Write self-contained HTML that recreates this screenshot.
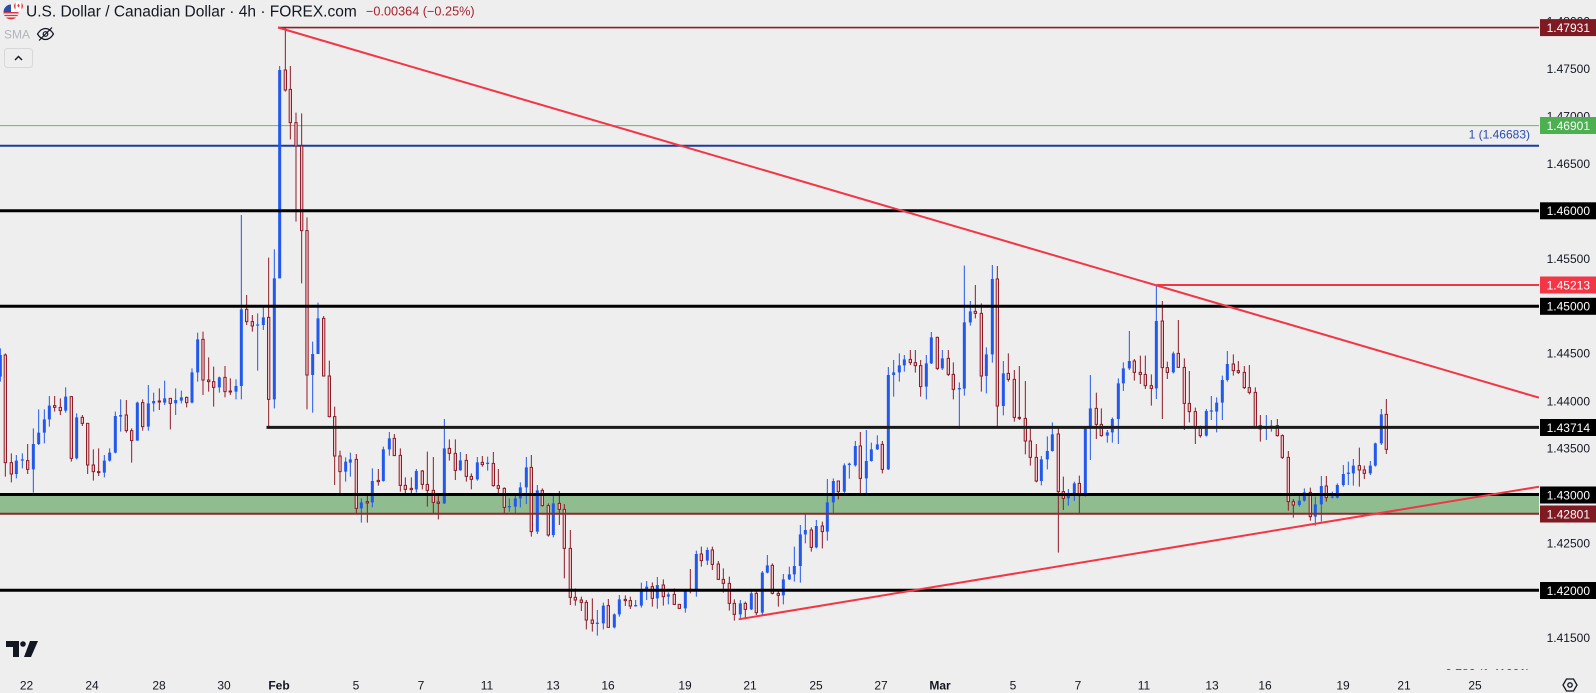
<!DOCTYPE html>
<html>
<head>
<meta charset="utf-8">
<style>
html,body{margin:0;padding:0;background:#eeeeee;}
body{width:1596px;height:693px;overflow:hidden;position:relative;font-family:"Liberation Sans",sans-serif;}
svg{position:absolute;left:0;top:0;}
</style>
</head>
<body>
<svg width="1596" height="693" viewBox="0 0 1596 693" xmlns="http://www.w3.org/2000/svg" font-family="Liberation Sans, sans-serif">
<defs>
<clipPath id="plot"><rect x="0" y="0" width="1539" height="670"/></clipPath>
</defs>
<rect x="0" y="0" width="1596" height="693" fill="#eeeeee"/>

<g clip-path="url(#plot)">
<!-- green band -->
<rect x="0" y="495" width="1539" height="18.5" fill="#8fbd8f"/>
<!-- thin lines -->
<line x1="0" y1="125.6" x2="1539" y2="125.6" stroke="#6cb46c" stroke-width="1"/>
<line x1="0" y1="145.7" x2="1539" y2="145.7" stroke="#1b3b9e" stroke-width="2"/>

<!-- candles group 1 -->
<g transform="matrix(0.33333,0,0,0.33333,0,20)">
<path fill="none" stroke="#8e1c28" stroke-width="3" d="M16 1000V1370M34 1300V1387M83 1272V1362M164 1128V1175M181 1135V1185M214 1128V1325M247 1185V1218M263 1210V1362M280 1288V1382M296 1285V1368M379 1140V1238M395 1225V1328M428 1138V1232M478 1105V1170M511 1135V1228M560 1130V1162M609 935V1125M626 1012V1115M641 1040V1160M675 1038V1132M691 1075V1125M740 825V915M757 885V935M806 713V1222M856 22V215M871 138V358M888 278V605M905 280V790M921 592V1168M971 888V1070M988 1022V1192M1004 1160V1395M1020 1292V1420"/>
<path fill="#2258ec" stroke="none" d="M-0.5 985h3V1085h-3zM47.5 1305h3V1375h-3zM65.5 1300h3V1345h-3zM98.5 1225h3V1418h-3zM114.5 1168h3V1275h-3zM131.5 1168h3V1270h-3zM146.5 1128h3V1220h-3zM195.5 1102h3V1178h-3zM228.5 1180h3V1318h-3zM311.5 1305h3V1372h-3zM327.5 1285h3V1325h-3zM344.5 1175h3V1300h-3zM360.5 1138h3V1235h-3zM410.5 1145h3V1262h-3zM443.5 1095h3V1232h-3zM459.5 1118h3V1175h-3zM492.5 1082h3V1155h-3zM525.5 1105h3V1185h-3zM542.5 1112h3V1150h-3zM574.5 1045h3V1150h-3zM591.5 938h3V1085h-3zM656.5 1070h3V1118h-3zM706.5 1078h3V1138h-3zM722.5 585h3V1138h-3zM771.5 880h3V1052h-3zM788.5 862h3V930h-3zM821.5 688h3V1165h-3zM837.5 138h3V775h-3zM936.5 965h3V1178h-3zM952.5 848h3V1002h-3zM1035.5 1312h3V1385h-3z"/>
<path fill="#f3c4c8" stroke="#8e1c28" stroke-width="3" d="M12.5 1005h7V1328h-7zM30.5 1328h7V1362h-7zM79.5 1322h7V1348h-7zM160.5 1157h7V1162h-7zM177.5 1162h7V1172h-7zM210.5 1130h7V1315h-7zM243.5 1192h7V1210h-7zM259.5 1210h7V1335h-7zM276.5 1335h7V1355h-7zM292.5 1355h7V1358h-7zM375.5 1185h7V1232h-7zM391.5 1232h7V1262h-7zM424.5 1148h7V1220h-7zM474.5 1143h7V1146h-7zM507.5 1135h7V1150h-7zM556.5 1132h7V1148h-7zM605.5 958h7V1080h-7zM622.5 1080h7V1085h-7zM637.5 1085h7V1102h-7zM671.5 1072h7V1115h-7zM687.5 1113h7V1116h-7zM736.5 868h7V905h-7zM753.5 905h7V918h-7zM802.5 892h7V1138h-7zM852.5 150h7V210h-7zM867.5 208h7V308h-7zM884.5 308h7V378h-7zM901.5 378h7V632h-7zM917.5 632h7V1065h-7zM967.5 895h7V1068h-7zM984.5 1068h7V1190h-7zM1000.5 1190h7V1308h-7zM1016.5 1308h7V1355h-7z"/>
<path fill="#2258ec" stroke="none" d="M-3.5 1005h9V1070h-9zM44.5 1322h9V1362h-9zM62.5 1318h9V1322h-9zM95.5 1272h9V1348h-9zM111.5 1238h9V1272h-9zM128.5 1198h9V1238h-9zM143.5 1157h9V1198h-9zM192.5 1130h9V1172h-9zM225.5 1192h9V1315h-9zM308.5 1322h9V1358h-9zM324.5 1298h9V1322h-9zM341.5 1188h9V1298h-9zM357.5 1185h9V1190h-9zM407.5 1148h9V1262h-9zM440.5 1150h9V1220h-9zM456.5 1143h9V1150h-9zM489.5 1135h9V1148h-9zM522.5 1140h9V1150h-9zM539.5 1132h9V1142h-9zM571.5 1057h9V1148h-9zM588.5 958h9V1057h-9zM653.5 1072h9V1102h-9zM703.5 1098h9V1115h-9zM719.5 868h9V1098h-9zM768.5 913h9V917h-9zM785.5 892h9V915h-9zM818.5 775h9V1138h-9zM834.5 150h9V775h-9zM933.5 1002h9V1065h-9zM949.5 895h9V1002h-9zM1032.5 1325h9V1355h-9z"/>
</g>

<!-- candles group 2 -->
<g transform="matrix(0.33333,0,0,0.33333,345,250)">
<path fill="none" stroke="#8e1c28" stroke-width="3" d="M34 612V790M67 732V818M100 657V707M148 552V617M166 595V725M181 682V730M199 682V730M232 660V718M247 605V770M265 621V790M280 732V808M313 568V632M331 568V690M364 612V695M379 670V718M412 618V650M445 606V710M460 657V735M478 712V792M559 615V860M592 715V770M610 760V860M643 723V825M658 762V985M676 840V1065M691 1015V1067M709 1040V1083M724 1050V1138M742 1045V1145M790 1047V1133M841 1036V1068M856 1040V1077M922 997V1070M955 988V1067M988 1015V1065M1003 1062V1077M1036 957V1030"/>
<path fill="#2258ec" stroke="none" d="M14.5 608h3V680h-3zM47.5 745h3V818h-3zM80.5 655h3V772h-3zM113.5 590h3V695h-3zM131.5 546h3V617h-3zM212.5 657h3V728h-3zM296.5 507h3V762h-3zM344.5 606h3V662h-3zM395.5 621h3V692h-3zM426.5 620h3V662h-3zM491.5 745h3V785h-3zM509.5 738h3V790h-3zM524.5 697h3V772h-3zM542.5 621h3V762h-3zM575.5 705h3V852h-3zM623.5 736h3V862h-3zM755.5 1080h3V1157h-3zM773.5 1058h3V1138h-3zM806.5 1090h3V1135h-3zM821.5 1035h3V1100h-3zM870.5 1050h3V1070h-3zM887.5 998h3V1073h-3zM903.5 993h3V1050h-3zM935.5 981h3V1076h-3zM968.5 1027h3V1063h-3zM1019.5 1018h3V1088h-3zM1052.5 902h3V1040h-3z"/>
<path fill="#f3c4c8" stroke="#8e1c28" stroke-width="3" d="M30.5 628h7V775h-7zM63.5 755h7V759h-7zM96.5 691h7V695h-7zM144.5 565h7V617h-7zM162.5 616h7V706h-7zM177.5 706h7V718h-7zM195.5 715h7V719h-7zM228.5 663h7V703h-7zM243.5 703h7V721h-7zM261.5 721h7V757h-7zM276.5 756h7V760h-7zM309.5 595h7V610h-7zM327.5 610h7V661h-7zM360.5 631h7V679h-7zM375.5 679h7V688h-7zM408.5 637h7V644h-7zM441.5 640h7V707h-7zM456.5 707h7V715h-7zM474.5 715h7V772h-7zM555.5 652h7V845h-7zM588.5 721h7V767h-7zM606.5 767h7V855h-7zM639.5 760h7V778h-7zM654.5 778h7V895h-7zM672.5 895h7V1042h-7zM687.5 1042h7V1050h-7zM705.5 1050h7V1057h-7zM720.5 1057h7V1110h-7zM738.5 1110h7V1120h-7zM786.5 1067h7V1132h-7zM837.5 1048h7V1052h-7zM852.5 1052h7V1068h-7zM918.5 1010h7V1045h-7zM951.5 1005h7V1040h-7zM984.5 1033h7V1063h-7zM999.5 1063h7V1075h-7zM1032.5 1018h7V1022h-7z"/>
<path fill="#2258ec" stroke="none" d="M11.5 628h9V638h-9zM44.5 757h9V775h-9zM77.5 693h9V757h-9zM110.5 598h9V693h-9zM128.5 565h9V598h-9zM209.5 663h9V718h-9zM293.5 595h9V760h-9zM341.5 631h9V661h-9zM392.5 637h9V688h-9zM423.5 638h9V642h-9zM488.5 768h9V772h-9zM506.5 745h9V770h-9zM521.5 712h9V745h-9zM539.5 652h9V712h-9zM572.5 721h9V845h-9zM620.5 760h9V855h-9zM752.5 1118h9V1122h-9zM770.5 1067h9V1120h-9zM803.5 1093h9V1132h-9zM818.5 1048h9V1093h-9zM867.5 1065h9V1069h-9zM884.5 1022h9V1067h-9zM900.5 1010h9V1022h-9zM932.5 1005h9V1045h-9zM965.5 1033h9V1040h-9zM1016.5 1020h9V1075h-9zM1049.5 912h9V1023h-9z"/>
</g>

<!-- candles group 3 -->
<g transform="matrix(0.33333,0,0,0.33333,698,240)">
<path fill="none" stroke="#8e1c28" stroke-width="3" d="M10 920V980M43 920V990M61 963V1020M76 985V1058M94 1010V1112M109 1078V1142M142 1085V1138M175 1048V1125M223 970V1063M241 1050V1100M340 862V935M373 845V925M421 722V778M487 576V765M553 603V700M637 330V375M652 330V398M668 360V470M718 290V390M751 330V408M766 367V478M832 135V235M850 190V455M898 78V562M931 340V425M949 390V545M964 378V540M982 423V643M997 562V677M1015 612V727"/>
<path fill="#2258ec" stroke="none" d="M26.5 922h3V975h-3zM125.5 1080h3V1140h-3zM158.5 1050h3V1110h-3zM191.5 993h3V1128h-3zM206.5 945h3V1000h-3zM254.5 1002h3V1093h-3zM272.5 980h3V1020h-3zM287.5 920h3V1025h-3zM305.5 855h3V1028h-3zM320.5 822h3V910h-3zM353.5 840h3V925h-3zM386.5 717h3V902h-3zM404.5 715h3V820h-3zM437.5 670h3V760h-3zM452.5 668h3V716h-3zM470.5 603h3V680h-3zM503.5 570h3V760h-3zM518.5 608h3V665h-3zM536.5 586h3V630h-3zM569.5 381h3V690h-3zM585.5 360h3V470h-3zM602.5 340h3V425h-3zM617.5 345h3V395h-3zM683.5 345h3V478h-3zM698.5 276h3V372h-3zM731.5 330h3V390h-3zM782.5 427h3V567h-3zM797.5 77h3V467h-3zM815.5 183h3V257h-3zM863.5 322h3V460h-3zM881.5 75h3V368h-3zM914.5 363h3V526h-3zM1028.5 648h3V736h-3zM1046.5 589h3V688h-3zM1061.5 547h3V635h-3z"/>
<path fill="#f3c4c8" stroke="#8e1c28" stroke-width="3" d="M6.5 942h7V962h-7zM39.5 930h7V973h-7zM57.5 972h7V1018h-7zM72.5 1018h7V1030h-7zM90.5 1030h7V1090h-7zM105.5 1090h7V1123h-7zM138.5 1090h7V1108h-7zM171.5 1060h7V1118h-7zM219.5 976h7V1060h-7zM237.5 1060h7V1066h-7zM336.5 870h7V922h-7zM369.5 858h7V875h-7zM417.5 723h7V755h-7zM483.5 618h7V715h-7zM549.5 613h7V688h-7zM633.5 358h7V368h-7zM648.5 368h7V377h-7zM664.5 377h7V440h-7zM714.5 292h7V385h-7zM747.5 355h7V403h-7zM762.5 403h7V448h-7zM828.5 214h7V220h-7zM846.5 220h7V408h-7zM894.5 117h7V498h-7zM927.5 400h7V418h-7zM945.5 418h7V532h-7zM960.5 532h7V535h-7zM978.5 535h7V603h-7zM993.5 603h7V652h-7zM1011.5 652h7V723h-7z"/>
<path fill="#2258ec" stroke="none" d="M23.5 930h9V962h-9zM122.5 1090h9V1123h-9zM155.5 1060h9V1108h-9zM188.5 998h9V1118h-9zM203.5 976h9V998h-9zM251.5 1018h9V1066h-9zM269.5 1003h9V1018h-9zM284.5 978h9V1003h-9zM302.5 883h9V978h-9zM317.5 870h9V883h-9zM350.5 858h9V922h-9zM383.5 787h9V875h-9zM401.5 723h9V787h-9zM434.5 676h9V755h-9zM449.5 671h9V675h-9zM467.5 618h9V676h-9zM500.5 663h9V715h-9zM515.5 628h9V663h-9zM533.5 613h9V628h-9zM566.5 405h9V688h-9zM582.5 397h9V405h-9zM599.5 376h9V397h-9zM614.5 358h9V376h-9zM680.5 370h9V440h-9zM695.5 292h9V370h-9zM728.5 355h9V385h-9zM779.5 444h9V448h-9zM794.5 247h9V446h-9zM812.5 214h9V247h-9zM860.5 343h9V408h-9zM878.5 117h9V343h-9zM911.5 400h9V498h-9zM1025.5 658h9V723h-9zM1043.5 633h9V658h-9zM1058.5 583h9V633h-9z"/>
</g>

<!-- candles group 4 -->
<g transform="matrix(0.33333,0,0,0.33333,1050,255)">
<path fill="none" stroke="#8e1c28" stroke-width="3" d="M25 520V893M40 665V765M88 662V775M139 413V552M154 460V545M253 312V377M271 302V387M286 302V402M304 358V452M337 138V492M352 320V372M385 195V338M403 310V525M418 348V502M436 458V567M451 512V548M550 298V362M565 318V357M583 333V402M598 330V418M616 397V518M631 480V560M682 492V545M697 538V612M715 588V767M730 732V788M781 698V797M829 663V740M928 578V695M943 632V672M1009 432V597"/>
<path fill="#2258ec" stroke="none" d="M53.5 702h3V752h-3zM71.5 680h3V738h-3zM104.5 515h3V725h-3zM119.5 360h3V615h-3zM170.5 525h3V563h-3zM185.5 487h3V563h-3zM203.5 370h3V567h-3zM218.5 322h3V408h-3zM236.5 228h3V345h-3zM317.5 90h3V432h-3zM368.5 290h3V355h-3zM467.5 462h3V545h-3zM482.5 423h3V495h-3zM498.5 427h3V532h-3zM515.5 362h3V495h-3zM530.5 288h3V380h-3zM647.5 480h3V555h-3zM662.5 495h3V530h-3zM746.5 718h3V755h-3zM761.5 700h3V740h-3zM794.5 725h3V812h-3zM812.5 663h3V800h-3zM845.5 710h3V730h-3zM860.5 685h3V730h-3zM878.5 630h3V695h-3zM893.5 620h3V690h-3zM908.5 612h3V692h-3zM959.5 618h3V660h-3zM974.5 563h3V635h-3zM992.5 462h3V570h-3z"/>
<path fill="#f3c4c8" stroke="#8e1c28" stroke-width="3" d="M21.5 537h7V710h-7zM36.5 710h7V730h-7zM84.5 685h7V722h-7zM135.5 460h7V508h-7zM150.5 508h7V542h-7zM249.5 318h7V352h-7zM267.5 352h7V358h-7zM282.5 358h7V392h-7zM300.5 392h7V400h-7zM333.5 198h7V338h-7zM348.5 338h7V352h-7zM381.5 295h7V337h-7zM399.5 337h7V445h-7zM414.5 445h7V470h-7zM432.5 470h7V520h-7zM447.5 518h7V542h-7zM546.5 327h7V347h-7zM561.5 347h7V352h-7zM579.5 352h7V398h-7zM594.5 398h7V412h-7zM612.5 412h7V515h-7zM627.5 512h7V522h-7zM678.5 512h7V542h-7zM693.5 542h7V607h-7zM711.5 607h7V740h-7zM726.5 740h7V750h-7zM777.5 712h7V785h-7zM825.5 693h7V728h-7zM924.5 632h7V645h-7zM939.5 645h7V655h-7zM1005.5 478h7V583h-7z"/>
<path fill="#2258ec" stroke="none" d="M50.5 715h9V730h-9zM68.5 685h9V715h-9zM101.5 517h9V722h-9zM116.5 460h9V517h-9zM167.5 532h9V542h-9zM182.5 492h9V532h-9zM200.5 385h9V492h-9zM215.5 340h9V385h-9zM233.5 318h9V340h-9zM314.5 198h9V400h-9zM365.5 295h9V352h-9zM464.5 468h9V542h-9zM479.5 466h9V470h-9zM495.5 443h9V470h-9zM512.5 375h9V443h-9zM527.5 327h9V375h-9zM644.5 518h9V522h-9zM659.5 512h9V520h-9zM743.5 737h9V750h-9zM758.5 712h9V737h-9zM791.5 748h9V785h-9zM809.5 693h9V748h-9zM842.5 725h9V728h-9zM857.5 690h9V728h-9zM875.5 657h9V690h-9zM890.5 653h9V657h-9zM905.5 632h9V655h-9zM956.5 632h9V655h-9zM971.5 565h9V632h-9zM989.5 478h9V565h-9z"/>
</g>

<!-- horizontal level lines -->
<line x1="278" y1="27.6" x2="1539" y2="27.6" stroke="#8c1f29" stroke-width="1.6"/>
<line x1="0" y1="210.8" x2="1539" y2="210.8" stroke="#000" stroke-width="3"/>
<line x1="0" y1="306.3" x2="1539" y2="306.3" stroke="#000" stroke-width="3"/>
<line x1="266.5" y1="427.4" x2="1539" y2="427.4" stroke="#1a1a1a" stroke-width="3"/>
<line x1="0" y1="494.5" x2="1539" y2="494.5" stroke="#000" stroke-width="3"/>
<line x1="0" y1="513.7" x2="1539" y2="513.7" stroke="#8c2a2e" stroke-width="2"/>
<line x1="0" y1="590.3" x2="1539" y2="590.3" stroke="#000" stroke-width="3"/>
<line x1="1156.7" y1="285" x2="1539" y2="285" stroke="#f23645" stroke-width="2"/>
<!-- trend lines -->
<line x1="278" y1="27.5" x2="1539" y2="397.7" stroke="#f23645" stroke-width="2"/>
<line x1="738.7" y1="619.3" x2="1539" y2="486.7" stroke="#f23645" stroke-width="2"/>

<!-- fib labels -->
<text x="1530" y="138.5" text-anchor="end" font-size="12" fill="#2a4cb3">1 (1.46683)</text>
<text x="1530" y="677.5" text-anchor="end" font-size="12" fill="#2a4cb3">0.786 (1.41001)</text>
</g>

<!-- price axis tick labels -->
<g font-size="12" fill="#131722" text-anchor="end">
<text x="1590" y="25.3">1.48000</text>
<text x="1590" y="72.8">1.47500</text>
<text x="1590" y="120.3">1.47000</text>
<text x="1590" y="167.8">1.46500</text>
<text x="1590" y="262.8">1.45500</text>
<text x="1590" y="357.3">1.44500</text>
<text x="1590" y="405.3">1.44000</text>
<text x="1590" y="452.3">1.43500</text>
<text x="1590" y="547.3">1.42500</text>
<text x="1590" y="641.8">1.41500</text>
</g>
<!-- price axis boxes -->
<g font-size="12" fill="#ffffff" text-anchor="end">
<rect x="1540" y="19.1" width="56" height="17" fill="#7f1a23"/>
<text x="1590" y="31.9">1.47931</text>
<rect x="1540" y="117" width="56" height="17" fill="#4caf50"/>
<text x="1590" y="129.8">1.46901</text>
<rect x="1540" y="202.3" width="56" height="17" fill="#000"/>
<text x="1590" y="215.1">1.46000</text>
<rect x="1540" y="276.5" width="56" height="17" fill="#f23645"/>
<text x="1590" y="289.3">1.45213</text>
<rect x="1540" y="297.8" width="56" height="17" fill="#000"/>
<text x="1590" y="310.6">1.45000</text>
<rect x="1540" y="419" width="56" height="17" fill="#000"/>
<text x="1590" y="431.8">1.43714</text>
<rect x="1540" y="486.5" width="56" height="17" fill="#000"/>
<text x="1590" y="499.3">1.43000</text>
<rect x="1540" y="505.5" width="56" height="17" fill="#7f1a23"/>
<text x="1590" y="518.3">1.42801</text>
<rect x="1540" y="582" width="56" height="17" fill="#000"/>
<text x="1590" y="594.8">1.42000</text>
</g>

<!-- time axis -->
<g font-size="12" fill="#131722" text-anchor="middle">
<text x="26.5" y="689.5">22</text>
<text x="92" y="689.5">24</text>
<text x="159" y="689.5">28</text>
<text x="224" y="689.5">30</text>
<text x="279" y="689.5" font-weight="bold">Feb</text>
<text x="356" y="689.5">5</text>
<text x="421" y="689.5">7</text>
<text x="487" y="689.5">11</text>
<text x="553" y="689.5">13</text>
<text x="608" y="689.5">16</text>
<text x="685" y="689.5">19</text>
<text x="750" y="689.5">21</text>
<text x="816" y="689.5">25</text>
<text x="881" y="689.5">27</text>
<text x="940" y="689.5" font-weight="bold">Mar</text>
<text x="1013" y="689.5">5</text>
<text x="1078" y="689.5">7</text>
<text x="1144" y="689.5">11</text>
<text x="1212" y="689.5">13</text>
<text x="1265" y="689.5">16</text>
<text x="1343" y="689.5">19</text>
<text x="1404" y="689.5">21</text>
<text x="1475" y="689.5">25</text>
</g>
<!-- gear icon -->
<g fill="none" stroke="#131722" stroke-width="1.3">
<polygon points="1563,685 1566.5,679 1573.5,679 1577,685 1573.5,691 1566.5,691"/>
<circle cx="1570" cy="685" r="2.2"/>
</g>

<!-- TradingView logo -->
<g fill="#131722">
<path d="M6 641H19V657H13V647H6Z"/>
<circle cx="23" cy="644" r="2.8"/>
<path d="M30 641H38L31 657H24Z"/>
</g>

<!-- header -->
<g>
<circle cx="11" cy="12" r="7.5" fill="#ffffff"/>
<path d="M3.5 12a7.5 7.5 0 0 0 15 0z" fill="#d9373f"/>
<rect x="4" y="13.5" width="14" height="1.3" fill="#ffffff"/>
<rect x="5" y="16.2" width="12" height="1.2" fill="#ffffff"/>
<path d="M11 4.5a7.5 7.5 0 0 0 -7.5 7.5H11z" fill="#2a4fa8"/>
<circle cx="18.5" cy="6" r="5" fill="#ffffff" stroke="#eeeeee" stroke-width="1"/>
<path d="M14 6a4.5 4.5 0 0 0 1.5 3.3V2.7A4.5 4.5 0 0 0 14 6z" fill="#e0313b"/>
<path d="M23 6a4.5 4.5 0 0 1 -1.5 3.3V2.7A4.5 4.5 0 0 1 23 6z" fill="#e0313b"/>
<path d="M18.5 3.6l1.2 2.2l-1.2 1.6l-1.2 -1.6z" fill="#e0313b"/>
</g>
<text x="26" y="16.5" font-size="15.5" fill="#131722">U.S. Dollar / Canadian Dollar · 4h · FOREX.com</text>
<text x="366" y="15.5" font-size="12.7" fill="#a81f2d">−0.00364 (−0.25%)</text>
<text x="4" y="38.3" font-size="12" fill="#b2b5be">SMA</text>
<g fill="none" stroke="#131722" stroke-width="1.2">
<path d="M37.5 34c2.5-4 5-5.5 8-5.5s5.5 1.5 8 5.5c-2.5 4-5 5.5-8 5.5s-5.5-1.5-8-5.5z"/>
<circle cx="45.5" cy="34" r="2.3"/>
<line x1="39" y1="40.5" x2="52" y2="27.5"/>
</g>
<rect x="4.5" y="48.5" width="28" height="19" rx="3" fill="#eeeeee" stroke="#d8d8d8" stroke-width="1"/>
<path d="M15 60l3.5-3.5l3.5 3.5" fill="none" stroke="#131722" stroke-width="1.4"/>
</svg>
</body>
</html>
